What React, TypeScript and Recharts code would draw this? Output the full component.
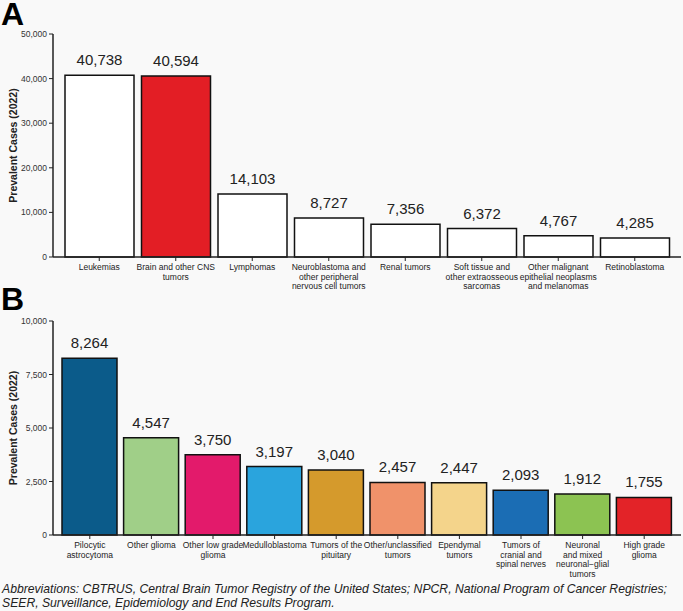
import { BarChart, Bar, XAxis, YAxis, Cell, LabelList } from "recharts";

const tumorTypesA = [
  "Leukemias",
  "Brain and other CNS\ntumors",
  "Lymphomas",
  "Neuroblastoma and\nother peripheral\nnervous cell tumors",
  "Renal tumors",
  "Soft tissue and\nother extraosseous\nsarcomas",
  "Other malignant\nepithelial neoplasms\nand melanomas",
  "Retinoblastoma",
];
const casesA = [40738, 40594, 14103, 8727, 7356, 6372, 4767, 4285];
const fillsA = ["#ffffff", "#e31e25", "#ffffff", "#ffffff", "#ffffff", "#ffffff", "#ffffff", "#ffffff"];
const ticksA = [0, 10000, 20000, 30000, 40000, 50000];

const tumorTypesB = [
  "Pilocytic\nastrocytoma",
  "Other glioma",
  "Other low grade\nglioma",
  "Medulloblastoma",
  "Tumors of the\npituitary",
  "Other/unclassified\ntumors",
  "Ependymal\ntumors",
  "Tumors of\ncranial and\nspinal nerves",
  "Neuronal\nand mixed\nneuronal\u2212glial\ntumors",
  "High grade\nglioma",
];
const casesB = [8264, 4547, 3750, 3197, 3040, 2457, 2447, 2093, 1912, 1755];
const fillsB = [
  "#0b5b8a",
  "#a0cf88",
  "#e31a6b",
  "#2aa4dd",
  "#d59a2c",
  "#f0926a",
  "#f4d48b",
  "#1b6db4",
  "#8cc352",
  "#e32328",
];
const ticksB = [0, 2500, 5000, 7500, 10000];

const FONT = "Arial, 'Liberation Sans', Helvetica, sans-serif";
const INK = "#222";
const fmt = (v: any) => Number(v).toLocaleString("en-US");

function WrappedTick(props: any) {
  const { x, y, payload } = props;
  const lines = String(payload.value).split("\n");
  return (
    <text x={x} y={y} textAnchor="middle" fill={INK} fontSize={8.5} fontFamily={FONT}>
      {lines.map((l, i) => (
        <tspan key={i} x={x} dy={i === 0 ? "0.71em" : 9.5}>
          {l}
        </tspan>
      ))}
    </text>
  );
}

function Panel({
  letter,
  letterTop,
  names,
  values,
  fills,
  ticks,
  max,
  height,
  top,
  xHeight,
  pad,
  barSize,
}: {
  letter: string;
  letterTop: number;
  names: string[];
  values: number[];
  fills: string[];
  ticks: number[];
  max: number;
  height: number;
  top: number;
  xHeight: number;
  pad: number;
  barSize: number;
}) {
  const data = names.map((n, i) => ({ name: n, cases: values[i] }));
  return (
    <div style={{ position: "relative", width: 683, height }}>
      <BarChart
        width={683}
        height={height}
        data={data}
        margin={{ top, right: 2, bottom: 0, left: 0 }}
        barSize={barSize}
      >
        <XAxis
          dataKey="name"
          interval={0}
          height={xHeight}
          padding={{ left: pad, right: pad }}
          tick={<WrappedTick />}
          tickSize={4}
          tickMargin={3}
          axisLine={{ stroke: INK, strokeWidth: 1.5 }}
          tickLine={{ stroke: INK }}
        />
        <XAxis
          xAxisId="top"
          dataKey="name"
          orientation="top"
          height={0}
          tick={false}
          tickLine={false}
          padding={{ left: pad, right: pad }}
          axisLine={{ stroke: "#333", strokeWidth: 1.5 }}
        />
        <YAxis
          type="number"
          domain={[0, max]}
          ticks={ticks}
          width={53}
          tickFormatter={fmt}
          tickSize={4}
          tickMargin={2}
          tick={{ fill: "#333", fontSize: 8.5, fontFamily: FONT }}
          axisLine={{ stroke: INK, strokeWidth: 1.5 }}
          tickLine={{ stroke: INK }}
          label={{
            value: "Prevalent Cases (2022)",
            angle: -90,
            position: "insideLeft",
            offset: 13,
            style: {
              textAnchor: "middle",
              fontFamily: FONT,
              fontWeight: 700,
              fontSize: 10.5,
              fill: INK,
            },
          }}
        />
        <YAxis
          yAxisId="right"
          orientation="right"
          type="number"
          domain={[0, max]}
          width={0}
          tick={false}
          tickLine={false}
          axisLine={{ stroke: "#333", strokeWidth: 1.5 }}
        />
        <Bar dataKey="cases" stroke="#111" strokeWidth={1.5} isAnimationActive={false}>
          {data.map((_, i) => (
            <Cell key={i} fill={fills[i]} />
          ))}
          <LabelList
            dataKey="cases"
            position="top"
            offset={10}
            formatter={fmt}
            style={{ fill: INK, fontSize: 15, fontFamily: FONT }}
          />
        </Bar>
      </BarChart>
      <div
        style={{
          position: "absolute",
          left: 1,
          top: letterTop,
          fontFamily: FONT,
          fontWeight: 700,
          fontSize: 32,
          color: "#000",
          lineHeight: "26px",
        }}
      >
        {letter}
      </div>
    </div>
  );
}

export default function App() {
  return (
    <div
      style={{
        position: "absolute",
        left: 0,
        top: 0,
        width: 683,
        height: 611,
        background: "#f9f9f9",
        overflow: "hidden",
      }}
    >
      <Panel
        letter="A"
        letterTop={1}
        names={tumorTypesA}
        values={casesA}
        fills={fillsA}
        ticks={ticksA}
        max={50000}
        height={290}
        top={34}
        xHeight={33}
        pad={8}
        barSize={69}
      />
      <Panel
        letter="B"
        letterTop={-4}
        names={tumorTypesB}
        values={casesB}
        fills={fillsB}
        ticks={ticksB}
        max={10000}
        height={293}
        top={31}
        xHeight={48}
        pad={6}
        barSize={55}
      />
      <div
        style={{
          position: "absolute",
          left: 2,
          top: 582,
          fontFamily: FONT,
          fontStyle: "italic",
          fontSize: 12.2,
          lineHeight: "14px",
          color: "#222",
          whiteSpace: "nowrap",
        }}
      >
        Abbreviations: CBTRUS, Central Brain Tumor Registry of the United States; NPCR, National Program of Cancer
        Registries;
        <br />
        SEER, Surveillance, Epidemiology and End Results Program.
      </div>
    </div>
  );
}
